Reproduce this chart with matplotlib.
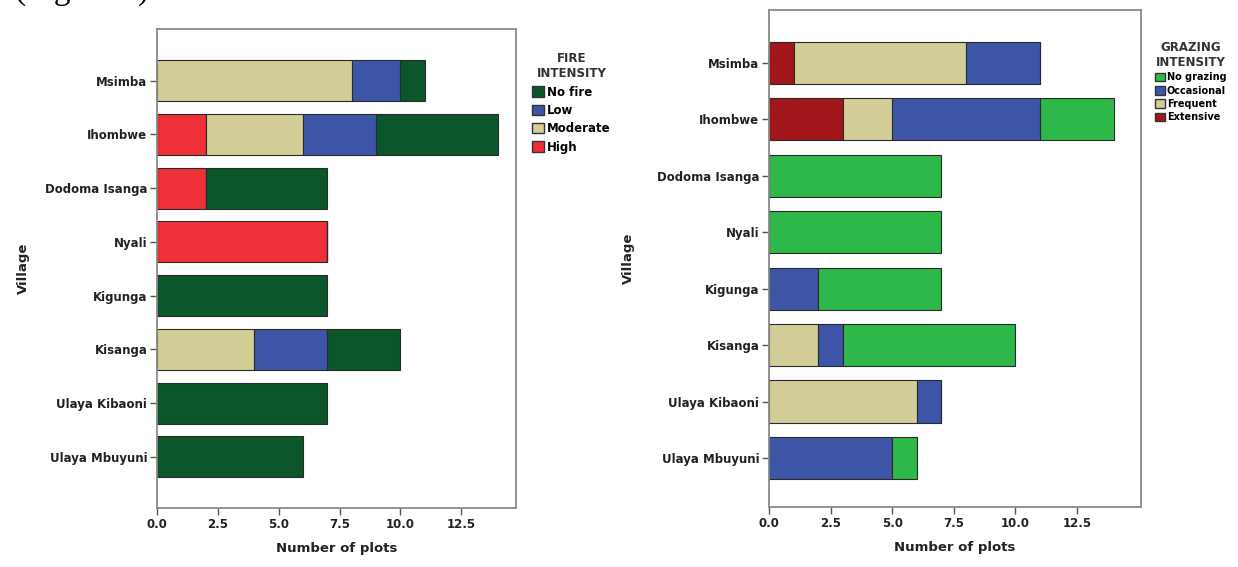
import matplotlib.pyplot as plt
from matplotlib.patches import Patch
import numpy as np

# villages, top to bottom
villages = ['Msimba', 'Ihombwe', 'Dodoma Isanga', 'Nyali', 'Kigunga',
            'Kisanga', 'Ulaya Kibaoni', 'Ulaya Mbuyuni']

# fire intensity counts (number of plots)
fire_high = [0, 2, 2, 7, 0, 0, 0, 0]
fire_moderate = [8, 4, 0, 0, 0, 4, 0, 0]
fire_low = [2, 3, 0, 0, 0, 3, 0, 0]
fire_none = [1, 5, 5, 0, 7, 3, 7, 6]

# grazing intensity counts
graz_extensive = [1, 3, 0, 0, 0, 0, 0, 0]
graz_frequent = [7, 2, 0, 0, 0, 2, 6, 0]
graz_occasional = [3, 6, 0, 0, 2, 1, 1, 5]
graz_none = [0, 3, 7, 7, 5, 7, 0, 1]

xticks = [0, 2.5, 5, 7.5, 10, 12.5]

C_DKGREEN = '#0b572b'
C_BLUE = '#3d55a6'
C_TAN = '#d3cd98'
C_RED = '#ee3039'
C_GREEN = '#2fb84a'
C_DKRED = '#a2151b'

W, H = 1238, 567
fig = plt.figure(figsize=(W / 100, H / 100), dpi=100)
plt.rcParams['font.family'] = 'DejaVu Sans'


def px_axes(x0, y0, x1, y1):
    return fig.add_axes([x0 / W, 1 - y1 / H, (x1 - x0) / W, (y1 - y0) / H])


def stack(ax, series, colors, height):
    y = np.arange(len(villages))
    left = np.zeros(len(villages))
    for vals, c in zip(series, colors):
        vals = np.array(vals, dtype=float)
        ax.barh(y, vals, left=left, height=height, color=c,
                edgecolor='#2a2a2a', linewidth=0.8, zorder=2)
        left += vals


def style(ax, xmax, ylim):
    ax.set_xlim(0, xmax)
    ax.set_ylim(*ylim)
    ax.set_yticks(np.arange(len(villages)))
    ax.set_yticklabels(villages, fontsize=8.5, fontweight='bold', color='#222222')
    ax.set_xticks(xticks)
    ax.set_xticklabels(['%.1f' % t for t in xticks], fontsize=8.5,
                       fontweight='bold', color='#222222')
    ax.tick_params(axis='both', direction='out', length=5, width=1,
                   color='#555555', pad=2)
    for s in ax.spines.values():
        s.set_color('#8a8a8a')
        s.set_linewidth(1.3)
    ax.set_xlabel('Number of plots', fontsize=9.5, fontweight='bold',
                  color='#222222', labelpad=8)
    ax.set_ylabel('Village', fontsize=9.5, fontweight='bold', color='#222222')


def legend(handles, title, anchor, size, spacing):
    leg = fig.legend(handles=handles, title=title, loc='upper left',
                     bbox_to_anchor=anchor, frameon=False,
                     prop={'weight': 'bold', 'size': size},
                     handlelength=1.0, handleheight=1.0, handletextpad=0.25,
                     labelspacing=spacing, borderpad=0.2, alignment='center')
    t = leg.get_title()
    t.set_fontweight('bold')
    t.set_fontsize(8.5)
    t.set_color('#333333')
    t.set_multialignment('center')
    return leg


# left: fire intensity
ax1 = px_axes(157, 29, 516, 508)
stack(ax1, [fire_high, fire_moderate, fire_low, fire_none],
      [C_RED, C_TAN, C_BLUE, C_DKGREEN], 0.76)
style(ax1, 14.75, (7.95, -0.96))
ax1.yaxis.set_label_coords(-0.355, 0.5)

# right: grazing intensity
ax2 = px_axes(769, 10, 1141, 507)
stack(ax2, [graz_extensive, graz_frequent, graz_occasional, graz_none],
      [C_DKRED, C_TAN, C_BLUE, C_GREEN], 0.745)
style(ax2, 15.1, (7.87, -0.94))
ax2.yaxis.set_label_coords(-0.36, 0.5)

fire_handles = [Patch(facecolor=c, edgecolor='#333333', label=l)
                for c, l in zip([C_DKGREEN, C_BLUE, C_TAN, C_RED],
                                ['No fire', 'Low', 'Moderate', 'High'])]
legend(fire_handles, 'FIRE\nINTENSITY', (524 / W, 1 - 44 / H), 8.5, 0.45)

graz_handles = [Patch(facecolor=c, edgecolor='#333333', label=l)
                for c, l in zip([C_GREEN, C_BLUE, C_TAN, C_DKRED],
                                ['No grazing', 'Occasional', 'Frequent', 'Extensive'])]
legend(graz_handles, 'GRAZING\nINTENSITY', (1148 / W, 1 - 34 / H), 7, 0.35)

# caption cut off at the top of the image
fig.text(15 / W, 1.0 + 1.0 / H, '(Figure 6)', family='Liberation Serif',
         fontsize=24, va='baseline', ha='left')

fig.savefig('out.png', dpi=100)
